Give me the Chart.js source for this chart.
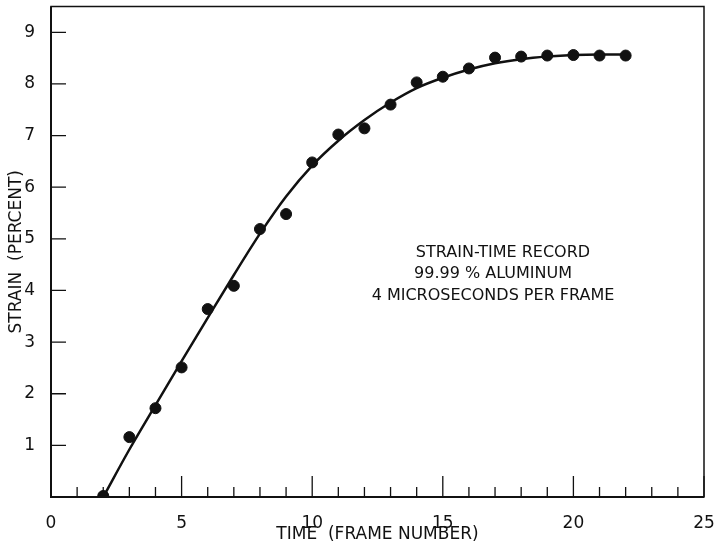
<!DOCTYPE html>
<html>
<head>
<meta charset="utf-8">
<script src="https://cdn.jsdelivr.net/npm/chart.js@4.4.1/dist/chart.umd.min.js"></script>
<style>
  html, body { margin: 0; padding: 0; background: #fff; }
  #wrap { width: 714px; height: 547px; }
</style>
</head>
<body>
<div id="wrap"><canvas id="strain-canvas" width="714" height="547"></canvas></div>
<script>
// measured points (frame number vs strain %)
const frames = [2, 3, 4, 5, 6, 7, 8, 9, 10, 11, 12, 13, 14, 15, 16, 17, 18, 19, 20, 21, 22]
const strain = [0.02, 1.16, 1.72, 2.51, 3.64, 4.09, 5.19, 5.48, 6.48, 7.02, 7.14, 7.6, 8.03, 8.14, 8.3, 8.51, 8.53, 8.55, 8.56, 8.55, 8.55]

// faired curve
const fitFrames = [2, 3, 4, 5, 6, 7, 8, 9, 10, 11, 12, 13, 14, 15, 16, 17, 18, 19, 20, 21, 22]
const fitStrain = [0.0, 0.92, 1.78, 2.63, 3.47, 4.3, 5.1, 5.82, 6.42, 6.9, 7.3, 7.64, 7.92, 8.12, 8.28, 8.4, 8.48, 8.53, 8.56, 8.57, 8.57]

const xTicks = [0, 5, 10, 15, 20, 25]
const xMinorTicks = [1, 2, 3, 4, 6, 7, 8, 9, 11, 12, 13, 14, 16, 17, 18, 19, 21, 22, 23, 24]
const yTicks = [1, 2, 3, 4, 5, 6, 7, 8, 9]

const noteLines = ["STRAIN-TIME RECORD", "99.99 % ALUMINUM", "4 MICROSECONDS PER FRAME"]

const ink = "#111"
const font = "'DejaVu Sans', sans-serif"

// box around the plot plus ticks pointing inward, like the original
const framePlugin = {
  id: "frame",
  beforeDatasetsDraw(chart) {
    const { ctx, chartArea: a } = chart
    const xs = chart.scales.x
    const ys = chart.scales.y
    ctx.save()
    ctx.strokeStyle = ink
    ctx.lineWidth = 1.5
    ctx.strokeRect(a.left, a.top, a.right - a.left, a.bottom - a.top)
    ctx.lineWidth = 2
    ctx.beginPath()
    ctx.moveTo(a.left, a.top)
    ctx.lineTo(a.left, a.bottom)
    ctx.lineTo(a.right, a.bottom)
    ctx.stroke()

    ctx.lineWidth = 1.3
    ctx.beginPath()
    xTicks.forEach((v) => {
      const px = xs.getPixelForValue(v)
      ctx.moveTo(px, a.bottom)
      ctx.lineTo(px, a.bottom - 21)
    })
    xMinorTicks.forEach((v) => {
      const px = xs.getPixelForValue(v)
      ctx.moveTo(px, a.bottom)
      ctx.lineTo(px, a.bottom - 10)
    })
    yTicks.forEach((v) => {
      const py = ys.getPixelForValue(v)
      ctx.moveTo(a.left, py)
      ctx.lineTo(a.left + 15, py)
    })
    ctx.stroke()
    ctx.restore()
  },
  afterDraw(chart) {
    const { ctx } = chart
    ctx.save()
    ctx.fillStyle = ink
    ctx.font = "16px " + font
    ctx.textAlign = "center"
    ctx.textBaseline = "middle"
    ctx.fillText(noteLines[0], 503, 253)
    ctx.fillText(noteLines[1], 493, 274)
    ctx.fillText(noteLines[2], 493, 296)
    ctx.restore()
  },
}

// no extra room for half labels at the axis ends
function noOverhang(s) {
  s.paddingTop = 0
  s.paddingBottom = 0
  s.paddingLeft = 0
  s.paddingRight = 0
}

const canvas = document.getElementById("strain-canvas")
new Chart(canvas, {
  type: "scatter",
  data: {
    datasets: [
      {
        label: "Measured",
        data: frames.map((f, i) => ({ x: f, y: strain[i] })),
        backgroundColor: ink,
        borderColor: ink,
        pointRadius: 5.5,
        pointHoverRadius: 5.5,
        order: 1,
      },
      {
        type: "line",
        label: "Curve",
        data: fitFrames.map((f, i) => ({ x: f, y: fitStrain[i] })),
        borderColor: ink,
        borderWidth: 2.5,
        pointRadius: 0,
        fill: false,
        cubicInterpolationMode: "monotone",
        order: 2,
      },
    ],
  },
  options: {
    responsive: false,
    animation: false,
    layout: { padding: { top: 6, right: 10, left: 0, bottom: 0 } },
    plugins: {
      legend: { display: false },
      tooltip: { enabled: false },
    },
    scales: {
      x: {
        type: "linear",
        min: 0,
        max: 25,
        grid: { display: false },
        border: { display: false },
        afterBuildTicks: (s) => { s.ticks = xTicks.map((v) => ({ value: v })) },
        afterFit: (s) => { s.height = 50; noOverhang(s) },
        ticks: {
          color: ink,
          padding: 8,
          maxRotation: 0,
          font: { family: font, size: 17 },
        },
        title: {
          display: true,
          text: "TIME  (FRAME NUMBER)",
          color: ink,
          padding: { top: 0, bottom: 2 },
          font: { family: font, size: 17 },
        },
      },
      y: {
        min: 0,
        max: 9.5,
        grid: { display: false },
        border: { display: false },
        afterBuildTicks: (s) => { s.ticks = yTicks.map((v) => ({ value: v })) },
        afterFit: (s) => { s.width = 51; noOverhang(s) },
        ticks: {
          color: ink,
          padding: 8,
          font: { family: font, size: 17 },
        },
        title: {
          display: true,
          text: "STRAIN  (PERCENT)",
          color: ink,
          padding: { top: 6, bottom: 0 },
          font: { family: font, size: 17 },
        },
      },
    },
  },
  plugins: [framePlugin],
})
</script>
</body>
</html>
